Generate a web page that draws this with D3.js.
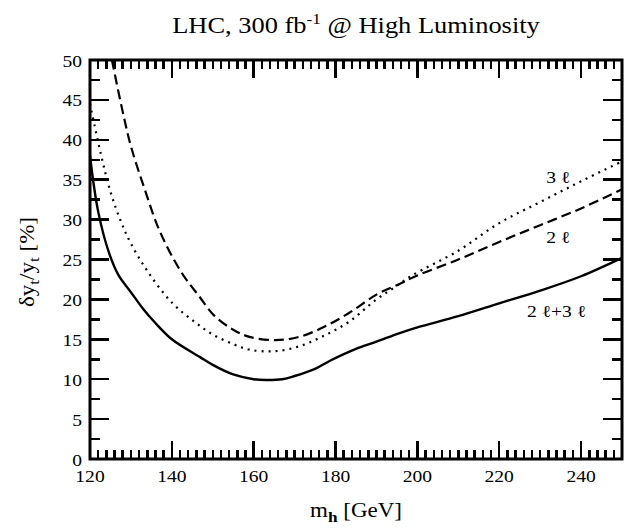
<!DOCTYPE html>
<html>
<head>
<meta charset="utf-8">
<script src="https://cdn.jsdelivr.net/npm/d3@7"></script>
<style>
  body { margin: 0; background: #fff; }
</style>
</head>
<body>
<svg id="chart" width="632" height="531"></svg>
<script>
// m_h [GeV] vs delta y_t / y_t [%]
const combMass = [120, 122, 124.8, 127, 130, 133, 135.7, 140, 146.8, 150, 155, 160, 163, 167, 170, 175, 179, 185, 190, 195.5, 200, 210, 220, 230, 240, 250];
const combVals = [38, 31.0, 25.6, 23.0, 20.9, 18.8, 17.2, 15.0, 12.8, 11.8, 10.6, 10.0, 9.9, 10.0, 10.4, 11.3, 12.4, 13.8, 14.7, 15.75, 16.5, 17.9, 19.5, 21.1, 22.9, 25.2];

const twoMass = [125.35, 128, 130, 133.3, 137, 142.2, 146.8, 150.3, 155, 159, 165.4, 171.1, 177, 183.3, 190, 195.5, 200, 210, 220, 230, 240, 250];
const twoVals = [50, 43.5, 39.2, 33.9, 28.6, 23.5, 20.3, 18.0, 16.2, 15.3, 14.9, 15.3, 16.5, 18.3, 20.6, 21.9, 23.0, 25.0, 27.2, 29.3, 31.4, 33.8];

const threeMass = [120, 122.7, 125, 127.6, 130, 134.1, 140, 145.5, 150, 155, 159, 165, 171, 177, 183.3, 190, 194.7, 198.7, 210, 219.8, 230, 240, 250];
const threeVals = [44.5, 38.1, 33.5, 29.7, 27.0, 23.5, 19.6, 17.2, 15.6, 14.4, 13.7, 13.5, 14.1, 15.4, 17.2, 20.0, 21.6, 23.0, 26.1, 29.5, 32.2, 34.8, 37.3];

const series = [
  { name: '2 ℓ+3 ℓ', mass: combMass, vals: combVals, dash: null, width: 2.4 },
  { name: '2 ℓ', mass: twoMass, vals: twoVals, dash: '10,5', width: 2.2 },
  { name: '3 ℓ', mass: threeMass, vals: threeVals, dash: '2,5', width: 2.2 }
];

const curveLabels = [
  { text: '3 ℓ', m: 234.4, v: 34.6 },
  { text: '2 ℓ', m: 234.4, v: 27.1 },
  { text: '2 ℓ+3 ℓ', m: 234.0, v: 17.8 }
];

const xMajor = [120, 140, 160, 180, 200, 220, 240];
const yMajor = [0, 5, 10, 15, 20, 25, 30, 35, 40, 45, 50];

const serif = 'Liberation Serif, Times New Roman, Times, serif';
const stretch = 1.15; // the original lettering is a bit wide

const svg = d3.select('#chart');
const plotL = 90, plotR = 622, plotT = 60, plotB = 459;

const x = d3.scaleLinear().domain([120, 250]).range([plotL, plotR]);
const y = d3.scaleLinear().domain([0, 50]).range([plotB, plotT]);

function label(parent, px, py, size, anchor, rot) {
  return parent.append('text')
    .attr('transform', `translate(${px},${py})${rot ? ` rotate(${rot})` : ''} scale(${stretch},1)`)
    .attr('text-anchor', anchor)
    .attr('font-family', serif)
    .attr('font-size', size)
    .attr('fill', '#000');
}

// curves
const line = d3.line()
  .x(d => x(d[0]))
  .y(d => y(d[1]))
  .curve(d3.curveCatmullRom.alpha(0.5));

svg.append('g')
  .selectAll('path')
  .data(series)
  .enter()
  .append('path')
  .attr('d', s => line(s.mass.map((m, i) => [m, s.vals[i]])))
  .attr('fill', 'none')
  .attr('stroke', '#000')
  .attr('stroke-width', s => s.width)
  .attr('stroke-dasharray', s => s.dash);

// ticks, all pointing inwards, on all four sides
const xMinor = d3.range(120, 251, 2).filter(d => d % 20 !== 0);
const yMinor = d3.range(2.5, 50, 5);

const xTicks = xMajor.map(d => ({ v: d, len: 18 })).concat(xMinor.map(d => ({ v: d, len: 9 })));
const yTicks = yMajor.map(d => ({ v: d, len: 19 })).concat(yMinor.map(d => ({ v: d, len: 10 })));

const tickG = svg.append('g')
  .attr('stroke', '#000')
  .attr('stroke-width', 2.5)
  .attr('shape-rendering', 'crispEdges');

tickG.selectAll('line.xb')
  .data(xTicks)
  .join('line')
  .attr('class', 'xb')
  .attr('x1', d => x(d.v)).attr('x2', d => x(d.v))
  .attr('y1', plotB).attr('y2', d => plotB - d.len);

tickG.selectAll('line.xt')
  .data(xTicks)
  .join('line')
  .attr('class', 'xt')
  .attr('x1', d => x(d.v)).attr('x2', d => x(d.v))
  .attr('y1', plotT).attr('y2', d => plotT + d.len);

tickG.selectAll('line.yl')
  .data(yTicks)
  .join('line')
  .attr('class', 'yl')
  .attr('y1', d => y(d.v)).attr('y2', d => y(d.v))
  .attr('x1', plotL).attr('x2', d => plotL + d.len);

tickG.selectAll('line.yr')
  .data(yTicks)
  .join('line')
  .attr('class', 'yr')
  .attr('y1', d => y(d.v)).attr('y2', d => y(d.v))
  .attr('x1', plotR).attr('x2', d => plotR - d.len);

// frame
svg.append('rect')
  .attr('x', plotL).attr('y', plotT)
  .attr('width', plotR - plotL).attr('height', plotB - plotT)
  .attr('fill', 'none')
  .attr('stroke', '#000')
  .attr('stroke-width', 3);

// tick labels
xMajor.forEach(d => {
  label(svg, x(d), plotB + 23, 17, 'middle').text(d);
});
yMajor.forEach(d => {
  label(svg, plotL - 8, y(d) + 6.5, 17, 'end').text(d);
});

curveLabels.forEach(d => {
  label(svg, x(d.m), y(d.v), 17, 'middle').text(d.text);
});

// title and axis titles
const title = label(svg, 356, 33, 23, 'middle');
title.append('tspan').text('LHC, 300 fb');
title.append('tspan').attr('dy', -9).attr('font-size', 15).text('-1');
title.append('tspan').attr('dy', 9).text(' @ High Luminosity');

const xTitle = label(svg, 356, 517, 20, 'middle');
xTitle.append('tspan').text('m');
xTitle.append('tspan').attr('dy', 5).attr('font-size', 15).attr('font-weight', 'bold').text('h');
xTitle.append('tspan').attr('dy', -5).text(' [GeV]');

const yTitle = label(svg, 34, 262, 20, 'middle', -90);
yTitle.append('tspan').text('δy');
yTitle.append('tspan').attr('dy', 5).attr('font-size', 15).text('t');
yTitle.append('tspan').attr('dy', -5).text('/y');
yTitle.append('tspan').attr('dy', 5).attr('font-size', 15).text('t');
yTitle.append('tspan').attr('dy', -5).text(' [%]');
</script>
</body>
</html>
